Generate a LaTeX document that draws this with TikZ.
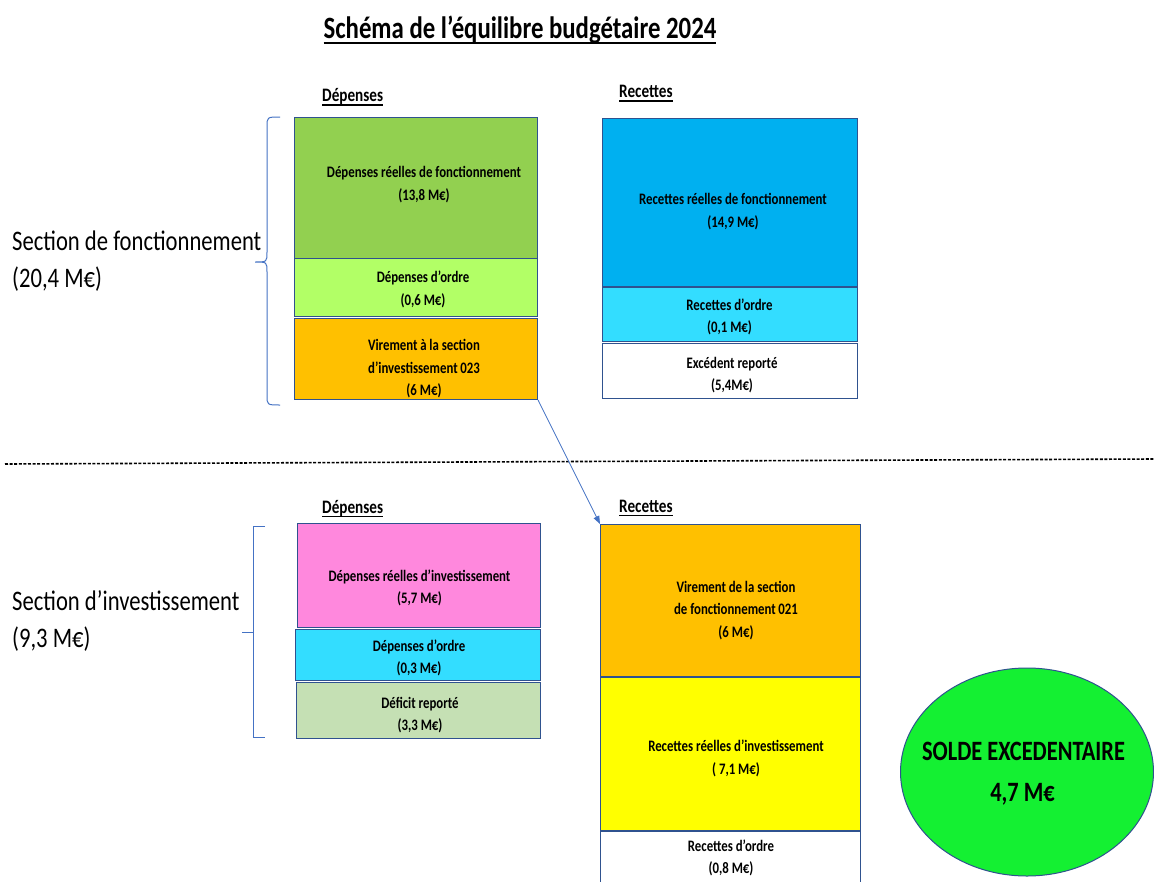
\documentclass[tikz,border=0pt]{standalone}
\usepackage{fontspec}
\setmainfont{Carlito}[FakeStretch=0.8]
\usetikzlibrary{arrows.meta,shapes.geometric}
\definecolor{bordc}{HTML}{2F528F}
\definecolor{bracec}{HTML}{4472C4}
\definecolor{cgreen}{HTML}{92D050}
\definecolor{clgreen}{HTML}{B2FF66}
\definecolor{corange}{HTML}{FFC000}
\definecolor{cblue}{HTML}{00B0F0}
\definecolor{ccyan}{HTML}{33DDFF}
\definecolor{cpink}{HTML}{FF88DD}
\definecolor{cpale}{HTML}{C5E0B4}
\definecolor{cyellow}{HTML}{FFFF00}
\definecolor{csolde}{HTML}{14F032}
\newsavebox\myulbox
\newcommand\myuline[3]{\sbox\myulbox{#3}\rlap{\rule[-#2]{\wd\myulbox}{#1}}\usebox\myulbox}
\begin{document}
\begin{tikzpicture}[x=1pt,y=-1pt,
  box/.style={draw=bordc, line width=1.1pt, inner sep=0pt, anchor=north west},
  btxt/.style={font=\fontsize{16}{22.5}\selectfont\bfseries, align=center, inner sep=0pt, anchor=center},
  head/.style={font=\fontsize{19}{22}\selectfont\bfseries, anchor=base west, inner sep=0pt},
  sect/.style={font=\fontsize{28.3}{37}\selectfont, anchor=base west, inner sep=0pt},
  stxt/.style={font=\fontsize{28}{40}\selectfont\bfseries, anchor=base, inner sep=0pt},
  bracket/.style={draw=bracec, line width=1pt},
]
\clip (0,0) rectangle (1154,881);
\fill[white] (0,0) rectangle (1154,881);

% title and headings
\node[font=\fontsize{31}{36}\selectfont\bfseries, anchor=base, inner sep=0pt] (title) at (520,38) {\myuline{1.8pt}{6pt}{Schéma de l’équilibre budgétaire 2024}};
\node[head] (hd1) at (322,101.5) {\myuline{1.2pt}{4pt}{Dépenses}};
\node[head] (hr1) at (619,97.5) {\myuline{1.2pt}{4pt}{Recettes}};
\node[head] (hd2) at (322,513) {\myuline{1.2pt}{4pt}{Dépenses}};
\node[head] (hr2) at (619,512) {\myuline{1.2pt}{4pt}{Recettes}};

% section labels
\node[sect] (s1a) at (12,250) {Section de fonctionnement};
\node[sect] (s1b) at (12,287) {(20,4 M€)};
\node[sect] (s2a) at (12,610) {Section d’investissement};
\node[sect] (s2b) at (12,647) {(9,3 M€)};

% boxes
\node[box,fill=cgreen,minimum width=243,minimum height=141] (b1) at (294,117) {};
\node[box,fill=clgreen,minimum width=243,minimum height=58] (b2) at (294,258) {};
\node[box,fill=corange,minimum width=243,minimum height=81] (b3) at (294,318) {};
\node[box,fill=cblue,minimum width=255,minimum height=168] (b4) at (602,118) {};
\node[box,fill=ccyan,minimum width=255,minimum height=54] (b5) at (602,287) {};
\node[box,fill=white,minimum width=255,minimum height=55] (b6) at (602,343) {};
\node[box,fill=cpink,minimum width=243,minimum height=104] (b7) at (297,523) {};
\node[box,fill=ccyan,minimum width=245,minimum height=51] (b8) at (295,629) {};
\node[box,fill=cpale,minimum width=244,minimum height=56] (b9) at (296,682) {};
\node[box,fill=corange,minimum width=260,minimum height=152] (b10) at (600,524) {};
\node[box,fill=cyellow,minimum width=260,minimum height=153] (b11) at (600,677) {};
\node[box,fill=white,minimum width=260,minimum height=70] (b12) at (600,831) {};

% box texts
\node[btxt] (t1) at (424,184.5) {Dépenses réelles de fonctionnement\\(13,8 M€)};
\node[btxt] (t2) at (423,289.5) {Dépenses d’ordre\\(0,6 M€)};
\node[btxt] (t3) at (424,369) {Virement\,à la section\\d’investissement\,023\\(6 M€)};
\node[btxt] (t4) at (733,211.5) {Recettes réelles de fonctionnement\\(14,9 M€)};
\node[btxt] (t5) at (729.5,317) {Recettes d’ordre\\(0,1 M€)};
\node[btxt] (t6) at (732,375) {Excédent reporté\\(5,4M€)};
\node[btxt] (t7) at (419.5,588) {Dépenses réelles d’investissement\\(5,7 M€)};
\node[btxt] (t8) at (419,658) {Dépenses d’ordre\\(0,3 M€)};
\node[btxt] (t9) at (420,715) {Déficit reporté\\(3,3 M€)};
\node[btxt] (t10) at (736,610.5) {Virement\,de la section\\de fonctionnement\,021\\(6 M€)};
\node[btxt] (t11) at (736,758.5) {Recettes réelles d’investissement\\( 7,1 M€)};
\node[btxt] (t12) at (731,858) {Recettes d’ordre\\(0,8 M€)};

% solde ellipse
\node[ellipse, draw=bordc, line width=1pt, fill=csolde, minimum width=253, minimum height=208, inner sep=0pt] (solde) at (1027,772) {};
\node[stxt] (st1) at (1023.5,760) {SOLDE EXCEDENTAIRE};
\node[stxt] (st2) at (1022.5,801) {4,7 M€};

% separator
\draw[black, line width=1.6pt, dash pattern=on 3pt off 1.6pt] (5,464) -- (1154,459);

% transfer arrow
\draw[bracec, line width=0.8pt, -{Triangle[length=8pt,width=6pt]}] (b3.south east) -- (b10.north west);

% braces
\draw[bracket] (280,117) .. controls (267,117) .. (267,127) -- (267,252)
  .. controls (267,262) .. (255,262) .. controls (267,262) .. (267,272)
  -- (267,395) .. controls (267,405) .. (280,405);
\draw[bracket] (265,526) -- (253,526) -- (253,737) -- (265,737);
\draw[bracket] (242,632) -- (253,632);
\end{tikzpicture}
\end{document}
